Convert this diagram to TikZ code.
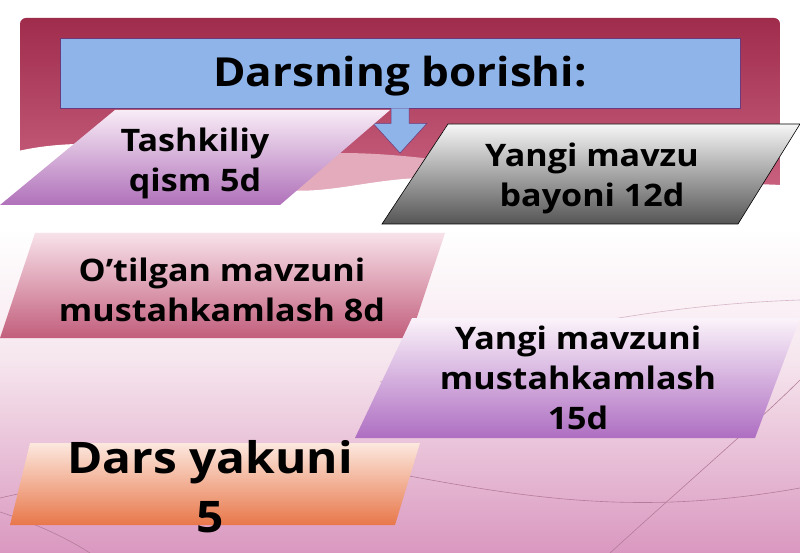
\documentclass[tikz,border=0pt]{standalone}
\usepackage{fontspec}
\setmainfont{Open Sans}[FakeStretch=1.1]
\usetikzlibrary{calc}
\definecolor{bgmid}{HTML}{F6E6EE}
\definecolor{bgbot}{HTML}{DA98C0}
\definecolor{paneltop}{HTML}{A02C4C}
\definecolor{panelbot}{HTML}{CC6684}
\definecolor{titleblue}{HTML}{8EB4EA}
\definecolor{titleline}{HTML}{6A3A7A}
\definecolor{decoline}{HTML}{B47C9A}
\definecolor{tkTop}{HTML}{F8ECF6}
\definecolor{tkBot}{HTML}{B071BA}
\definecolor{ymTop}{HTML}{F6F6F6}
\definecolor{ymBot}{HTML}{555555}
\definecolor{otTop}{HTML}{F8E2EA}
\definecolor{otBot}{HTML}{C25E7C}
\definecolor{mmTop}{HTML}{FBF3FA}
\definecolor{mmBot}{HTML}{AE6EC2}
\definecolor{dyTop}{HTML}{FCE8DE}
\definecolor{dyBot}{HTML}{E8774A}
\tikzset{
  x=1pt, y=-1pt,
  lbl/.style={font=\bfseries\fontsize{31}{40}\selectfont, align=center, text=black, inner sep=0pt},
  biglbl/.style={font=\bfseries\fontsize{43.5}{59}\selectfont, align=center, text=black, inner sep=0pt},
  deco/.style={draw=decoline, line width=0.6pt},
}
\begin{document}
\begin{tikzpicture}
\useasboundingbox (0,0) rectangle (800,553);
% background
\fill[white] (0,0) rectangle (800,230);
\shade[top color=white, bottom color=bgmid] (0,229) rectangle (800,360);
\shade[top color=bgmid, bottom color=bgbot] (0,359) rectangle (800,553);
% decorative curves
\draw[deco] (0,498) .. controls (120,470) and (300,455) .. (420,478) .. controls (540,500) and (650,515) .. (800,488);
\draw[deco] (610,553) .. controls (690,480) and (760,420) .. (800,380);
\draw[deco] (0,512) .. controls (40,525) and (70,540) .. (90,553);
\draw[deco, draw opacity=0.5] (380,382) .. controls (500,335) and (650,305) .. (800,300);
% panel
\shade[top color=paneltop, bottom color=panelbot, rounded corners=6pt]
  (20,205) -- (20,18) -- (780,18) -- (780,205) -- cycle;
\fill[panelbot!55!white] (230,165) .. controls (300,150) and (360,150) .. (440,160) -- (440,215) -- (230,215) -- cycle;
\fill[white] (0,156) .. controls (80,130) and (200,150) .. (240,175)
  .. controls (300,210) and (360,175) .. (440,178) -- (440,231) -- (0,231) -- cycle;
\fill[white] (440,200) .. controls (600,185) and (700,180) .. (800,186) -- (800,231) -- (440,231) -- cycle;
% title box
\node[draw=titleline, line width=0.6pt, fill=titleblue, minimum width=680pt, minimum height=70pt,
  font=\bfseries\fontsize{40}{48}\selectfont, inner sep=0pt, text height=38pt, text depth=10pt]
  (title) at (400,73) {Darsning borishi:};
% arrow connector
\coordinate (tip) at (400,153);
\draw[titleline, line width=0.5pt, fill=titleblue]
  ($(title.south)+(-9,0)$) -- ++(0,15) -- ++(-18,0) -- (tip) -- ($(title.south)+(27,15)$)
  -- ++(-18,0) -- ($(title.south)+(9,0)$);
% Tashkiliy
\shade[top color=tkTop, bottom color=tkBot] (115,110) -- (390,110) -- (280,205) -- (0,205) -- cycle;
\node[lbl] (tash) at (195,163) {Tashkiliy\\qism 5d};
% Yangi mavzu bayoni
\shade[top color=ymTop, bottom color=ymBot] (448,124) -- (800,124) -- (738,224) -- (382,224) -- cycle;
\draw[black, line width=0.6pt] (448,124) -- (800,124) -- (738,224) -- (382,224) -- cycle;
\node[lbl] (yangi) at (592,178) {Yangi mavzu\\bayoni 12d};
% O'tilgan
\shade[top color=otTop, bottom color=otBot] (35,233) -- (445,233) -- (410,338) -- (0,338) -- cycle;
\node[lbl] (otil) at (222,290) {O’tilgan mavzuni\\mustahkamlash 8d};
% Yangi mavzuni mustahkamlash
\shade[top color=mmTop, bottom color=mmBot] (412,318) -- (800,318) -- (755,438) -- (355,438) -- cycle;
\node[lbl] (must) at (578,378) {Yangi mavzuni\\mustahkamlash\\15d};
% Dars yakuni
\shade[top color=dyTop, bottom color=dyBot] (30,443) -- (420,443) -- (395,525) -- (10,525) -- cycle;
\node[biglbl] (yakun) at (210,487) {Dars yakuni\\5};
\end{tikzpicture}
\end{document}
